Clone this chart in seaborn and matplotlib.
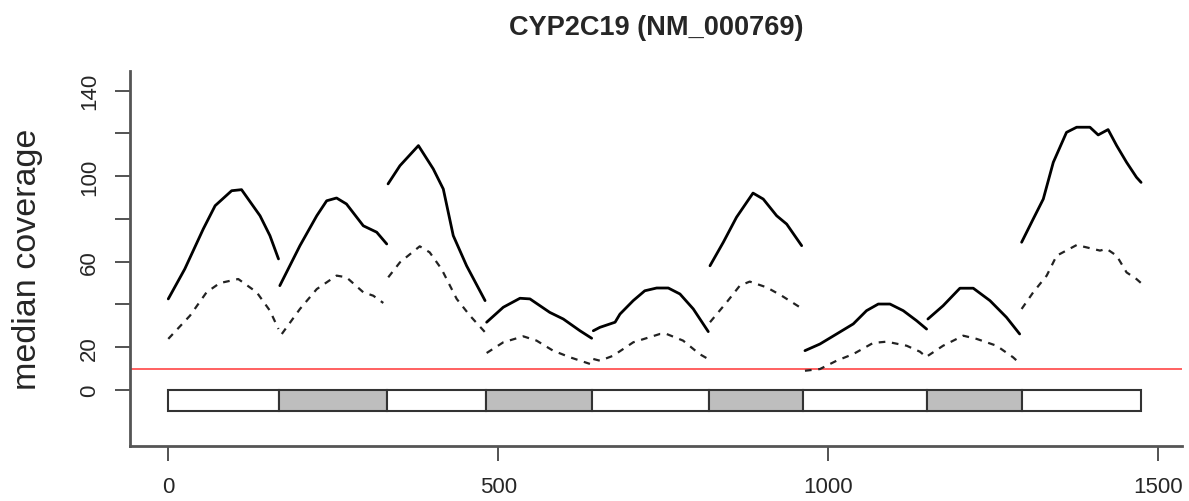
import matplotlib
matplotlib.use("Agg")
import matplotlib.pyplot as plt
import seaborn as sns
import pandas as pd
import numpy as np

# ---- data ----
title = "CYP2C19 (NM_000769)"
ylabel = "median coverage"
exon_bounds = [0, 168, 332, 482, 642, 820, 962, 1150, 1293, 1474]
exon_fill = ["white", "#BEBEBE", "white", "#BEBEBE", "white",
             "#BEBEBE", "white", "#BEBEBE", "white"]
threshold = 10
xticks = [0, 500, 1000, 1500]
yticks = [0, 20, 40, 60, 80, 100, 120, 140]
ytick_labels = ["0", "20", "", "60", "", "100", "", "140"]

med_pos = [
    [0, 25, 53, 71, 96, 111, 139, 154, 167],
    [169, 199.5, 225, 240, 255, 270, 295.5, 315.8, 331],
    [333, 351, 379, 401.5, 416.7, 431.8, 452, 480],
    [482.4, 507.6, 532.9, 548, 578, 598.5, 623.8, 641.5],
    [644, 654, 677, 684.4, 704.5, 722, 740, 757.6, 775.3, 795.5, 818.2],
    [820.8, 841, 861, 886, 901.5, 921.8, 937, 959.7],
    [964.7, 987.4, 1012.7, 1037.9, 1058, 1075.8, 1093.5, 1113.6, 1133.9, 1149],
    [1151, 1174, 1199.5, 1219.7, 1245, 1270, 1290],
    [1293, 1310.6, 1325.8, 1341, 1361, 1376.4, 1396.5, 1409, 1424, 1437, 1452, 1467, 1474],
]
med_cov = [
    [42.6, 56.6, 75.3, 86.2, 93.2, 93.7, 81.5, 72.2, 61.3],
    [48.8, 67.5, 81.5, 88.5, 89.8, 87, 76.8, 73.8, 68.3],
    [96.4, 104.9, 114.3, 103.4, 94, 72.2, 58.1, 41.8],
    [31.7, 38.7, 42.9, 42.6, 36.3, 33.2, 27.7, 24.2],
    [27.7, 29.3, 31.7, 35.5, 41.8, 46.4, 47.7, 47.7, 44.9, 37.9, 27.3],
    [58.1, 69.1, 80.8, 92.1, 89.3, 81.5, 77.6, 67.5],
    [18.4, 21.5, 26.2, 30.9, 37.1, 40.2, 40.2, 37.1, 32.4, 28.5],
    [33.2, 39.4, 47.6, 47.6, 41.8, 34, 26.2],
    [69.1, 80, 89.3, 106.5, 120.5, 122.9, 122.9, 119.3, 121.8, 114.3, 106.5, 99.5, 97.1],
]
low_pos = [
    [0, 33, 58, 78, 106, 134, 154, 167],
    [172, 199.5, 225, 255, 270, 295.5, 310.6, 325.8],
    [333.3, 351, 381, 396, 414, 437, 457, 480],
    [482.4, 507.6, 537.9, 558, 583, 608.6, 638.9],
    [644, 654, 674, 704.5, 745, 755, 780, 805, 818],
    [820.8, 846, 866, 881, 906.7, 929.4, 957],
    [964.7, 987.4, 1012.7, 1037.9, 1068, 1088.5, 1118.8, 1139, 1149],
    [1151, 1174, 1204.5, 1224.8, 1255, 1280, 1290],
    [1293, 1310.6, 1331, 1346, 1376.4, 1391.5, 1411.7, 1421.8, 1437, 1452, 1467, 1474],
]
low_cov = [
    [23.9, 34.8, 45.7, 50, 51.9, 45.7, 37.1, 28.5],
    [26.2, 37.9, 47.2, 53.5, 52.7, 45.7, 44.1, 40.7],
    [52.7, 59.7, 67.2, 64.4, 56.6, 42.6, 34.8, 27],
    [17.3, 22.3, 25.1, 23.1, 18.4, 15.3, 12.2],
    [14.5, 13.7, 16, 22.3, 26.2, 26.2, 23.1, 16.8, 14.5],
    [31.7, 41, 48.8, 50.7, 48, 44.1, 38.7],
    [9, 9.8, 13.7, 16.8, 22, 22.6, 20.7, 17.9, 15.3],
    [16, 20.7, 25.4, 23.9, 20.7, 15.3, 12.5],
    [37.9, 45.7, 53.5, 62.8, 67.8, 66.7, 65.2, 66, 62.8, 55, 51.9, 50],
]

# ---- build long table ----
rows = []
for i, (p, v) in enumerate(zip(med_pos, med_cov)):
    for a, b in zip(p, v):
        rows.append({"pos": a, "cov": b, "exon": i, "stat": "median"})
for i, (p, v) in enumerate(zip(low_pos, low_cov)):
    for a, b in zip(p, v):
        rows.append({"pos": a, "cov": b, "exon": i, "stat": "low"})
df = pd.DataFrame(rows)

sns.set_style("ticks")
plt.rcParams["font.family"] = ["Liberation Sans", "DejaVu Sans"]

fig = plt.figure(figsize=(11.89, 5.02), dpi=100)
ax = fig.add_axes([130 / 1189, 1 - 447 / 502, (1182 - 130) / 1189, (447 - 72) / 502])

for i in range(len(med_pos)):
    sub = df[(df.exon == i) & (df.stat == "median")]
    sns.lineplot(data=sub, x="pos", y="cov", ax=ax, color="black", lw=2.0,
                 estimator=None, sort=False)
    sub = df[(df.exon == i) & (df.stat == "low")]
    sns.lineplot(data=sub, x="pos", y="cov", ax=ax, color="#222222", lw=1.6,
                 estimator=None, sort=False, linestyle=(0, (3, 3)))

ax.axhline(threshold, color="#ff6060", lw=1.4, zorder=1)

starts = np.array(exon_bounds[:-1])
widths = np.diff(exon_bounds)
ax.bar(starts, height=threshold, bottom=-threshold, width=widths, align="edge",
       color=exon_fill, edgecolor="#333333", linewidth=1.5, zorder=2)

ax.set_xlim(-58, 1536)
ax.set_ylim(-26.2, 149.2)
ax.set_xticks(xticks)
ax.set_xticklabels([str(t) for t in xticks], fontsize=16)
ax.set_yticks(yticks)
ax.set_yticklabels(ytick_labels, fontsize=16, rotation=90, va="center")
ax.tick_params(axis="both", length=10.5, width=1.3, color="#444444", pad=11)
ax.tick_params(axis="x", pad=11)

for s in ["top", "right"]:
    ax.spines[s].set_visible(False)
for s in ["left", "bottom"]:
    ax.spines[s].set_color("#555555")
    ax.spines[s].set_linewidth(2.0)

ax.set_xlabel("")
ax.set_ylabel(ylabel, fontsize=24.5, labelpad=26)
fig.text(656 / 1189, 1 - 28 / 502, title, ha="center", va="center",
         fontsize=19.5, fontweight="bold")

fig.savefig("out.png", dpi=100)
